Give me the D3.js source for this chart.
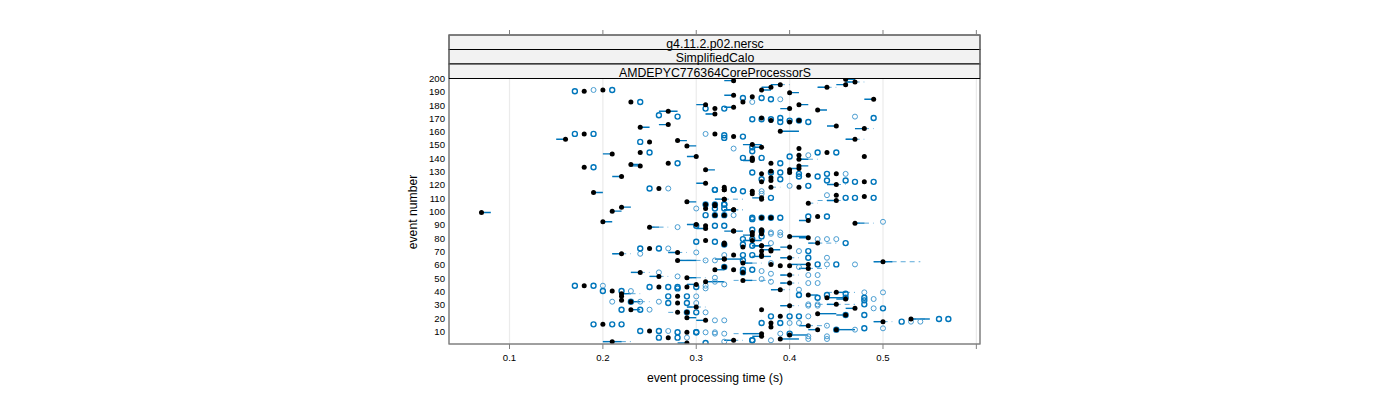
<!DOCTYPE html>
<html><head><meta charset="utf-8">
<script src="https://cdnjs.cloudflare.com/ajax/libs/d3/7.8.5/d3.min.js"></script>
<style>html,body{margin:0;padding:0;background:#fff}svg{display:block}text{font-family:"Liberation Sans",Arial,sans-serif}</style>
</head><body><svg id="c" width="1400" height="400"></svg>
<script>
const stripLabels = ["g4.11.2.p02.nersc","SimplifiedCalo","AMDEPYC776364CoreProcessorS"];
const xTicks = [0.1,0.2,0.3,0.4,0.5,0.6];
const xTickLabels = ["0.1","0.2","0.3","0.4","0.5",""];
const yTicks = [10,20,30,40,50,60,70,80,90,100,110,120,130,140,150,160,170,180,190,200];
const xTitle = "event processing time (s)";
const yTitle = "event number";

// [event, median, boxLow, boxHigh, whiskerLow, whiskerHigh]
const boxRows = [
[199,.46,.46,.47],[197,.47,.46,.47,.46,.48],[195,.39,.38,.39,.38,.40],[195,.46,.45,.46],[193,.38,.37,.38],[193,.44,.43,.44,.43,.45],
[191,.37,.37,.38],[189,.40,.40,.41],[187,.34,.33,.34],[198,.34,.33,.34],[184,.49,.48,.49],[180,.31,.30,.31],[180,.41,.41,.42],[178,.34,.33,.34],
[177,.40,.39,.40],[176,.43,.43,.44],[175,.27,.26,.28],[173,.32,.31,.32,.31,.32],[165,.27,.26,.27],[164,.45,.44,.45],[163,.24,.24,.25],[162,.48,.47,.48,.47,.49],
[160,.39,.39,.41],[153,.28,.28,.29],[154,.47,.46,.47,.46,.48],[154,.16,.15,.16],[150,.36,.35,.37],[149,.29,.29,.30],[148,.37,.36,.37],[143,.21,.20,.21],
[141,.30,.29,.30],[138,.36,.35,.36],[139,.41,.41,.42,.41,.43],[135,.23,.23,.24],[134,.24,.23,.24],[134,.41,.41,.42],[132,.41,.40,.41],[131,.31,.31,.32],
[126,.22,.21,.22],[121,.31,.30,.31],[120,.45,.44,.45,.44,.46],[118,.38,.38,.38,.38,.39],[114,.19,.19,.20],[110,.37,.36,.37],[109,.33,.32,.33,.32,.35],[109,.33,.33,.33],
[108,.45,.44,.45,.43,.46],[106,.42,.42,.42,.42,.43],[107,.29,.29,.30],[103,.22,.22,.23],[101,.34,.33,.34,.33,.35],[101,.34,.33,.34,.33,.35],[100,.21,.21,.22],[99,.07,.07,.08],
[93,.42,.41,.42],[92,.20,.20,.21],[91,.47,.47,.48,.47,.49],[90,.30,.29,.30],[88,.25,.25,.26,.25,.27],[87,.31,.30,.31],[85,.34,.34,.35],[85,.34,.33,.34],
[82,.36,.35,.36],[81,.40,.40,.42],[80,.42,.41,.42],[78,.36,.35,.37],[76,.43,.42,.43,.42,.45],[74,.37,.36,.37],[73,.40,.39,.40],[74,.37,.36,.38],[71,.38,.37,.39],
[69,.28,.27,.28,.27,.29],[68,.22,.21,.22,.21,.23],[66,.37,.36,.38],[65,.40,.39,.40,.39,.41],[64,.33,.33,.35],[64,.33,.32,.33],[63,.28,.28,.30,.28,.31],[62,.50,.49,.51,.49,.54],
[61,.35,.35,.36,.35,.37],[60,.42,.40,.42],[57,.42,.41,.42,.41,.44],[56,.32,.32,.33],[54,.24,.23,.24,.23,.25],[52,.40,.39,.40,.39,.41],[51,.26,.25,.26,.25,.27],[50,.29,.29,.30,.29,.31],
[48,.35,.35,.36,.34,.38],[47,.31,.31,.33],[46,.40,.39,.40,.39,.41],[45,.30,.29,.30],[41,.39,.38,.39,.38,.40],[39,.45,.45,.46,.44,.47],[38,.22,.22,.23,.22,.24],[37,.42,.42,.43],
[35,.44,.44,.46],[34,.46,.45,.46],[32,.23,.23,.24,.23,.25],[30,.45,.44,.45,.43,.47],[29,.40,.39,.40,.39,.41],[28,.30,.29,.30,.29,.31],[27,.47,.46,.47],[26,.23,.23,.24],
[24,.28,.28,.28,.27,.28],[23,.43,.43,.45],[22,.46,.45,.46],[20,.29,.29,.30],[19,.53,.53,.55,.53,.55],[18,.31,.30,.31],[17,.50,.49,.50,.49,.51],[14,.42,.41,.42,.41,.44],
[11,.45,.45,.47],[11,.43,.42,.43],[8,.37,.35,.37,.34,.37],[7,.40,.40,.42],[6,.37,.36,.37],[4,.39,.39,.41],[3,.34,.33,.34,.33,.35],[2,.21,.20,.22,.20,.23],[1,.29,.28,.29]
];

// [event, median] for rows where only the median shows
const plainMedians = [
[190,.18],[191,.20],[182,.23],[186,.36],[182,.35],[177,.32],[170,.37],[168,.38],[167,.40],[168,.41],[158,.18],[158,.32],[156,.34],
[152,.25],[147,.41],[144,.24],[142,.41],[144,.44],[141,.48],[140,.36],[139,.36],[136,.27],[136,.38],[133,.18],[128,.37],[129,.40],[131,.40],[130,.38],[127,.42],
[128,.45],[125,.38],[123,.38],[122,.48],[122,.37],[118,.41],[117,.26],[116,.33],[116,.33],[115,.36],[113,.36],[118,.33],[112,.45],[111,.48],[109,.37],
[105,.32],[105,.31],[104,.32],[102,.31],[97,.32],[97,.33],[96,.43],[95,.37],[95,.38],[89,.31],[86,.37],[85,.37],[84,.36],[83,.37],
[78,.31],[76,.33],[75,.33],[73,.35],[72,.25],[70,.38],[70,.37],[67,.34],[67,.37],[60,.38],[59,.39],[59,.40],[58,.33],[56,.34],[54,.35],
[44,.18],[43,.26],[43,.29],[40,.21],[36,.28],[36,.22],[33,.22],[31,.28],[26,.37],[24,.29],[21,.39],[16,.38],[15,.20],[13,.38],[10,.25],[9,.29],[5,.27]
];

// outliers overplotted several times (dark)
const strongOutliers = [
[190,.17],[191,.21],[182,.24],[185,.35],[185,.37],[184,.38],[177,.31],[177,.33],[172,.26],[171,.28],[169,.36],[169,.37],[169,.38],[170,.39],[167,.39],[168,.40],[168,.41],[167,.42],
[170,.49],[158,.17],[158,.19],[157,.33],[155,.33],[156,.35],[152,.24],[148,.36],[145,.36],[144,.25],[144,.43],[144,.45],[141,.40],[140,.35],[140,.37],[136,.28],[136,.39],[133,.19],
[129,.36],[129,.38],[129,.39],[124,.37],[124,.39],[128,.41],[126,.41],[126,.43],[128,.44],[123,.44],[123,.46],[122,.47],[122,.49],[119,.42],[117,.25],[116,.32],[116,.34],[115,.35],[116,.32],
[110,.38],[110,.46],[110,.47],[110,.49],[105,.31],[105,.32],[105,.33],[105,.33],[102,.32],[102,.33],[97,.31],[97,.33],[97,.32],[95,.36],[95,.37],[95,.38],[95,.39],[96,.42],[96,.44],[94,.36],
[89,.32],[89,.33],[89,.30],[86,.36],[85,.37],[81,.37],[79,.35],[79,.36],[77,.30],[77,.32],[76,.46],[75,.33],[75,.35],[74,.36],[72,.24],[72,.26],[70,.42],[65,.42],
[60,.43],[60,.45],[67,.35],[67,.36],[63,.35],[58,.33],[56,.35],[56,.36],[54,.35],[44,.17],[44,.19],[43,.25],[43,.27],[43,.28],[42,.28],[43,.30],[40,.20],[40,.22],
[37,.41],[37,.44],[38,.46],[36,.27],[36,.29],[35,.43],[35,.46],[35,.48],[33,.48],[32,.23],[31,.27],[31,.29],[30,.48],[26,.22],[26,.24],[24,.29],[24,.30],[27,.50],[22,.46],[22,.48],
[21,.38],[21,.40],[21,.41],[19,.56],[19,.57],[17,.52],[16,.37],[16,.39],[15,.19],[15,.21],[15,.22],[11,.45],[12,.48],[10,.24],[10,.26],[9,.28],[9,.30],[9,.30],[8,.40],[5,.26],[5,.28],[3,.36],[3,.36],[1,.31]
];

// outliers drawn once (light)
const faintOutliers = [
[191,.19],[184,.39],[182,.36],[171,.47],[158,.31],[147,.34],[142,.42],[117,.27],[116,.34],[119,.40],[128,.46],[115,.37],[113,.37],[112,.44],[102,.30],[97,.34],[92,.50],[88,.28],
[84,.38],[84,.39],[82,.39],[83,.38],[79,.43],[79,.44],[79,.45],[76,.38],[72,.27],[70,.41],[69,.30],[68,.24],[63,.31],[63,.32],[65,.44],[67,.33],[61,.38],[60,.47],[60,.44],[58,.41],
[55,.37],[54,.26],[53,.38],[52,.42],[52,.43],[51,.28],[50,.32],[49,.37],[47,.32],[46,.42],[46,.43],[45,.33],[47,.38],[44,.20],[44,.31],[42,.31],[41,.41],[39,.48],[39,.50],[37,.41],
[40,.23],[36,.30],[32,.21],[32,.24],[32,.26],[31,.30],[34,.49],[30,.42],[30,.43],[29,.42],[29,.43],[27,.49],[26,.25],[24,.31],[21,.42],[18,.32],[18,.33],[17,.53],[17,.54],[16,.40],[16,.41],
[14,.44],[12,.50],[11,.47],[10,.27],[9,.31],[9,.32],[8,.39],[8,.32],[8,.33],[6,.42],[6,.44],[5,.29],[4,.42],[4,.44],[3,.38],[2,.33]
];

const svg = d3.select("#c");
const L=449,R=980,PT=78.5,PB=344;
const x = d3.scaleLinear().domain([0.0352,0.6039]).range([L,R]);
const y = d3.scaleLinear().domain([0,200]).range([344.3,78]);
const dark="#0076bb", axisCol="#808080";

svg.append("g").selectAll("line").data(xTicks).join("line")
 .attr("x1",d=>x(d)).attr("x2",d=>x(d)).attr("y1",PT).attr("y2",PB)
 .attr("stroke","#ebebeb").attr("stroke-width",1.2);

const clip = svg.append("defs").append("clipPath").attr("id","p");
clip.append("rect").attr("x",L).attr("y",PT).attr("width",R-L).attr("height",PB-PT);
const plot = svg.append("g").attr("clip-path","url(#p)");

plot.append("g").selectAll("line").data(boxRows.filter(d=>d.length>4)).join("line")
 .attr("x1",d=>x(d[4])).attr("x2",d=>x(d[5])).attr("y1",d=>y(d[0])).attr("y2",d=>y(d[0]))
 .attr("stroke","#5ba9d9").attr("stroke-width",1).attr("stroke-dasharray","5 4");
plot.append("g").selectAll("line").data(boxRows).join("line")
 .attr("x1",d=>x(d[2])).attr("x2",d=>x(d[3])).attr("y1",d=>y(d[0])).attr("y2",d=>y(d[0]))
 .attr("stroke",dark).attr("stroke-width",1.4);
plot.append("g").selectAll("circle").data(faintOutliers).join("circle")
 .attr("cx",d=>x(d[1])).attr("cy",d=>y(d[0])).attr("r",2.5).attr("fill","none")
 .attr("stroke","#4a9dd1").attr("stroke-width",1);
plot.append("g").selectAll("circle").data(strongOutliers).join("circle")
 .attr("cx",d=>x(d[1])).attr("cy",d=>y(d[0])).attr("r",2.5).attr("fill","none")
 .attr("stroke",dark).attr("stroke-width",1.4);
plot.append("g").selectAll("circle").data(boxRows.concat(plainMedians)).join("circle")
 .attr("cx",d=>x(d[1])).attr("cy",d=>y(d[0])).attr("r",2.5).attr("fill","#000");

const stripTop=[35,49.5,64], stripH=14.5;
svg.append("g").selectAll("rect").data(stripLabels).join("rect")
 .attr("x",L).attr("y",(d,i)=>stripTop[i]).attr("width",R-L).attr("height",stripH)
 .attr("fill","#f2f2f2").attr("stroke","#000").attr("stroke-width",1);
svg.append("g").selectAll("text").data(stripLabels).join("text")
 .attr("x",715).attr("y",(d,i)=>stripTop[i]+12.5).attr("text-anchor","middle")
 .attr("font-size",12.3).attr("fill","#000").text(d=>d);

svg.append("rect").attr("x",L).attr("y",PT).attr("width",R-L).attr("height",PB-PT)
 .attr("fill","none").attr("stroke",axisCol).attr("stroke-width",1);
svg.append("rect").attr("x",L).attr("y",35).attr("width",R-L).attr("height",PB-35)
 .attr("fill","none").attr("stroke",axisCol).attr("stroke-width",1);
svg.append("line").attr("x1",L).attr("x2",R).attr("y1",78.5).attr("y2",78.5).attr("stroke","#000");

const axisTicks = svg.append("g");
axisTicks.selectAll(".b").data(xTicks).join("line").attr("class","b")
 .attr("x1",d=>x(d)).attr("x2",d=>x(d)).attr("y1",PB).attr("y2",PB+5).attr("stroke",axisCol);
axisTicks.selectAll(".t").data(xTicks).join("line").attr("class","t")
 .attr("x1",d=>x(d)).attr("x2",d=>x(d)).attr("y1",35).attr("y2",30).attr("stroke",axisCol);
axisTicks.selectAll("text").data(xTicks).join("text")
 .attr("x",d=>x(d)).attr("y",361).attr("text-anchor","middle").attr("font-size",9.6)
 .text((d,i)=>xTickLabels[i]);

svg.append("g").selectAll("text").data(yTicks).join("text")
 .attr("x",445).attr("y",d=>y(d)+3.9).attr("text-anchor","end").attr("font-size",9.6).text(d=>d);

svg.append("text").attr("x",715).attr("y",382).attr("text-anchor","middle").attr("font-size",12.2).text(xTitle);
svg.append("text").attr("transform","translate(417,212) rotate(-90)").attr("text-anchor","middle").attr("font-size",12.2).text(yTitle);
</script></body></html>
